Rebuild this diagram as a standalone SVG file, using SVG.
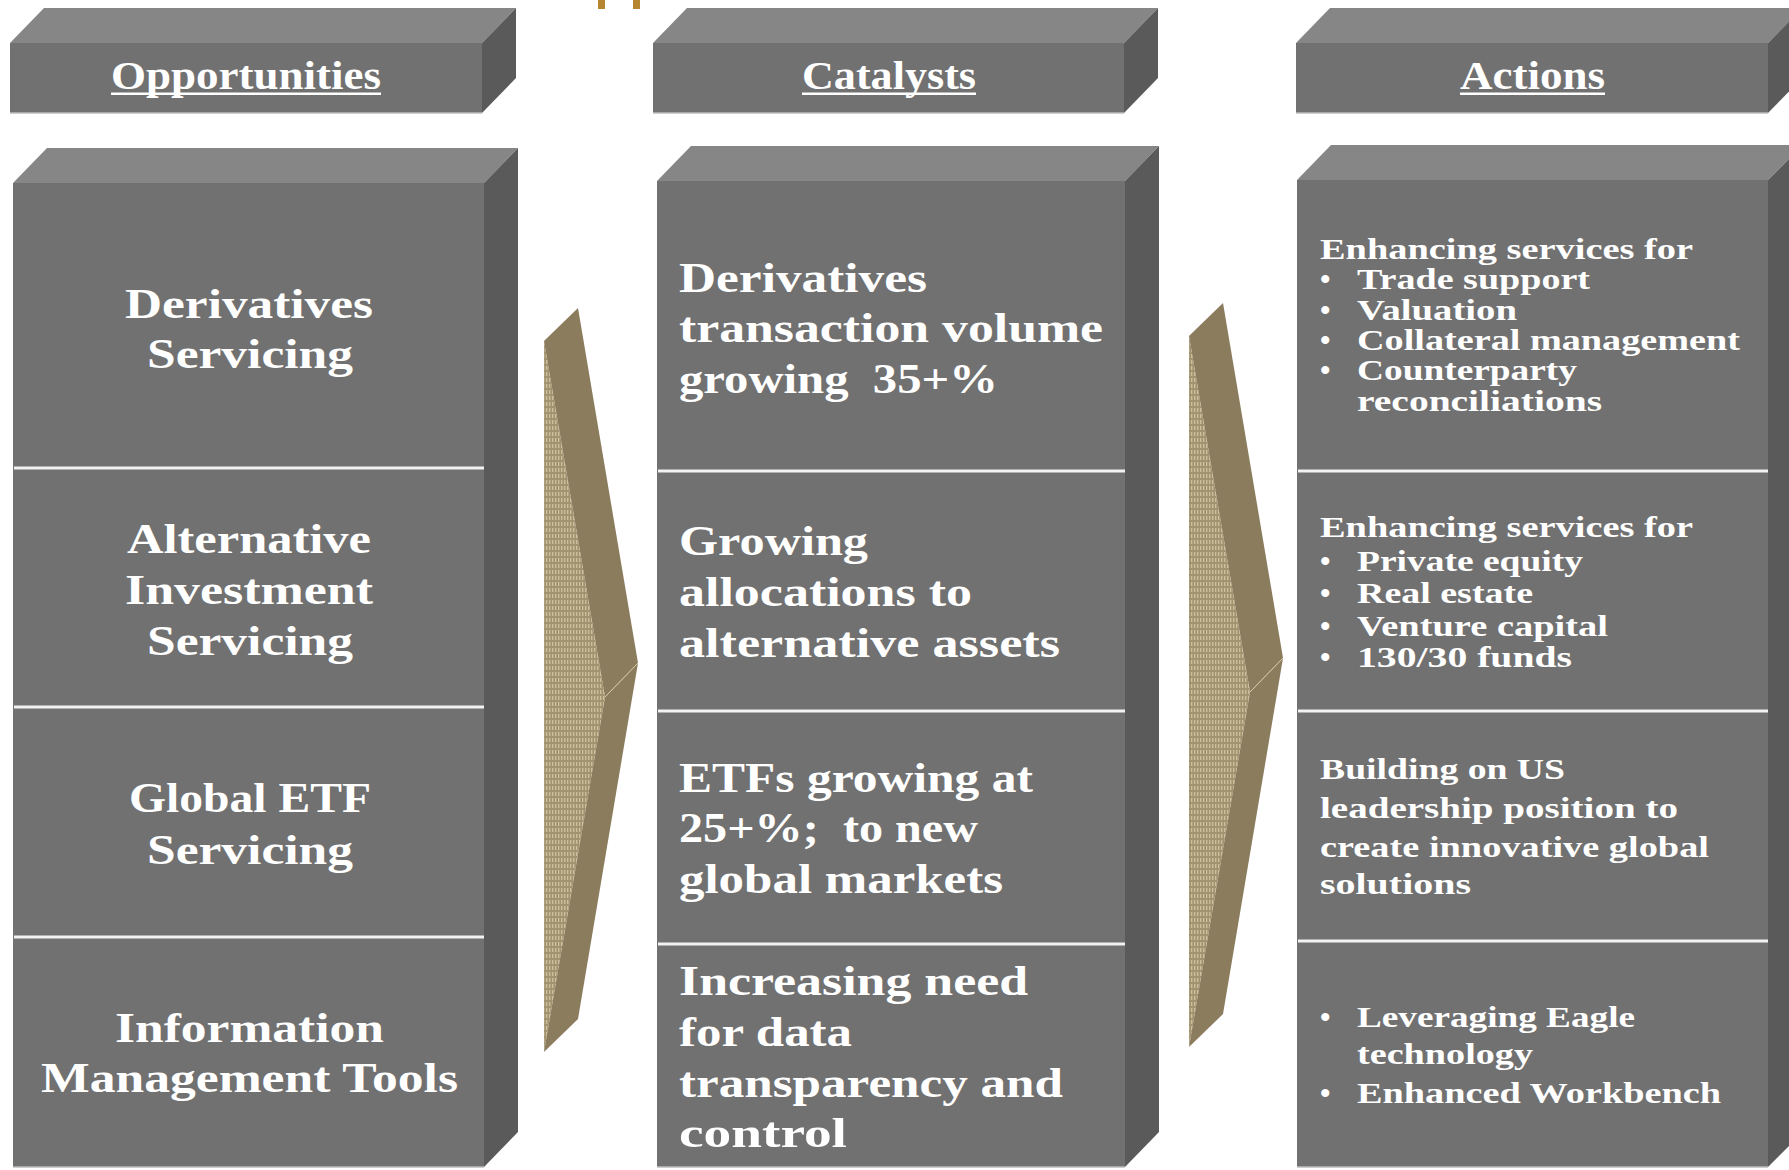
<svg xmlns="http://www.w3.org/2000/svg" width="1789" height="1170" viewBox="0 0 1789 1170">
  <style>
    .front { fill: #717171; }
    .top { fill: #868686; }
    .side { fill: #5a5a5a; }
    .edge { stroke: #bdbdbd; stroke-width: 1.5; }
    .div { stroke: #f2f2f2; stroke-width: 3; }
    .hdr { font-family: "Liberation Serif", "Times New Roman", serif; font-weight: bold; font-size: 40px; fill: #ffffff; }
    .big { font-family: "Liberation Serif", "Times New Roman", serif; font-weight: bold; font-size: 43px; fill: #ffffff; }
    .mid { font-family: "Liberation Serif", "Times New Roman", serif; font-weight: bold; font-size: 42px; fill: #ffffff; }
    .sm { font-family: "Liberation Serif", "Times New Roman", serif; font-weight: bold; font-size: 30px; fill: #ffffff; }
    .arrowFace { fill: #8a7c5d; }
    .arrowEdge { stroke: #d8cba5; stroke-width: 1; fill: none; }
  </style>
  <defs>
    <pattern id="weave" width="3" height="6" patternUnits="userSpaceOnUse">
      <rect width="3" height="6" fill="#a19270"/>
      <rect x="0" y="0" width="1.4" height="4" fill="#cdbf9b"/>
    </pattern>
  </defs>
  <rect width="1789" height="1170" fill="#ffffff"/>

  <!-- small gold marks at top edge -->
  <rect x="598" y="0" width="7" height="9" fill="#b5862f"/>
  <rect x="633" y="0" width="7" height="9" fill="#b5862f"/>

  <!-- column headers -->
  <g id="hdr-opportunities">
    <polygon class="top" points="10,43 44,8 516,8 482,43"/>
    <polygon class="side" points="482,43 516,8 516,78 482,113"/>
    <rect class="front" x="10" y="43" width="472" height="70"/>
    <line class="edge" x1="10" y1="113" x2="482" y2="113"/>
    <text class="hdr" x="111" y="89" textLength="270" lengthAdjust="spacingAndGlyphs">Opportunities</text>
    <rect x="111" y="92.5" width="270" height="2.5" fill="#ffffff"/>
  </g>
  <g id="hdr-catalysts">
    <polygon class="top" points="653,43 687,8 1158,8 1124,43"/>
    <polygon class="side" points="1124,43 1158,8 1158,78 1124,113"/>
    <rect class="front" x="653" y="43" width="471" height="70"/>
    <line class="edge" x1="653" y1="113" x2="1124" y2="113"/>
    <text class="hdr" x="802" y="89" textLength="174" lengthAdjust="spacingAndGlyphs">Catalysts</text>
    <rect x="802" y="92.5" width="174" height="2.5" fill="#ffffff"/>
  </g>
  <g id="hdr-actions">
    <polygon class="top" points="1296,43 1330,8 1802,8 1768,43"/>
    <polygon class="side" points="1768,43 1802,8 1802,78 1768,113"/>
    <rect class="front" x="1296" y="43" width="472" height="70"/>
    <line class="edge" x1="1296" y1="113" x2="1768" y2="113"/>
    <text class="hdr" x="1460" y="89" textLength="145" lengthAdjust="spacingAndGlyphs">Actions</text>
    <rect x="1460" y="92.5" width="145" height="2.5" fill="#ffffff"/>
  </g>

  <!-- Opportunities column -->
  <g id="col-opportunities">
    <polygon class="top" points="13,183 47,148 518,148 484,183"/>
    <polygon class="side" points="484,183 518,148 518,1132 484,1167"/>
    <rect class="front" x="13" y="183" width="471" height="984"/>
    <line class="edge" x1="13" y1="1167" x2="484" y2="1167"/>
    <line class="div" x1="14" y1="468" x2="484" y2="468"/>
    <line class="div" x1="14" y1="707" x2="484" y2="707"/>
    <line class="div" x1="14" y1="937" x2="484" y2="937"/>
    <g id="opp-derivatives">
      <text class="big" x="125" y="318" textLength="248" lengthAdjust="spacingAndGlyphs">Derivatives</text>
      <text class="big" x="147" y="368" textLength="206" lengthAdjust="spacingAndGlyphs">Servicing</text>
    </g>
    <g id="opp-alternative">
      <text class="big" x="127" y="553" textLength="244" lengthAdjust="spacingAndGlyphs">Alternative</text>
      <text class="big" x="125" y="604" textLength="248" lengthAdjust="spacingAndGlyphs">Investment</text>
      <text class="big" x="147" y="655" textLength="206" lengthAdjust="spacingAndGlyphs">Servicing</text>
    </g>
    <g id="opp-etf">
      <text class="big" x="129" y="812" textLength="242" lengthAdjust="spacingAndGlyphs">Global ETF</text>
      <text class="big" x="147" y="864" textLength="206" lengthAdjust="spacingAndGlyphs">Servicing</text>
    </g>
    <g id="opp-info">
      <text class="big" x="115" y="1042" textLength="269" lengthAdjust="spacingAndGlyphs">Information</text>
      <text class="big" x="41" y="1092" textLength="417" lengthAdjust="spacingAndGlyphs">Management Tools</text>
    </g>
  </g>

  <!-- Catalysts column -->
  <g id="col-catalysts">
    <polygon class="top" points="657,181 691,146 1159,146 1125,181"/>
    <polygon class="side" points="1125,181 1159,146 1159,1132 1125,1167"/>
    <rect class="front" x="657" y="181" width="468" height="986"/>
    <line class="edge" x1="657" y1="1167" x2="1125" y2="1167"/>
    <line class="div" x1="658" y1="471" x2="1125" y2="471"/>
    <line class="div" x1="658" y1="711" x2="1125" y2="711"/>
    <line class="div" x1="658" y1="944" x2="1125" y2="944"/>
    <g id="cat-derivatives">
      <text class="mid" x="679" y="292" textLength="248" lengthAdjust="spacingAndGlyphs">Derivatives</text>
      <text class="mid" x="679" y="342" textLength="424" lengthAdjust="spacingAndGlyphs">transaction volume</text>
      <text class="mid" x="679" y="393" textLength="319" lengthAdjust="spacingAndGlyphs" xml:space="preserve">growing  35+%</text>
    </g>
    <g id="cat-alternative">
      <text class="mid" x="679" y="555" textLength="189" lengthAdjust="spacingAndGlyphs">Growing</text>
      <text class="mid" x="679" y="606" textLength="293" lengthAdjust="spacingAndGlyphs">allocations to</text>
      <text class="mid" x="679" y="657" textLength="381" lengthAdjust="spacingAndGlyphs">alternative assets</text>
    </g>
    <g id="cat-etf">
      <text class="mid" x="679" y="792" textLength="354" lengthAdjust="spacingAndGlyphs">ETFs growing at</text>
      <text class="mid" x="679" y="842" textLength="299" lengthAdjust="spacingAndGlyphs" xml:space="preserve">25+%;  to new</text>
      <text class="mid" x="679" y="893" textLength="324" lengthAdjust="spacingAndGlyphs">global markets</text>
    </g>
    <g id="cat-data">
      <text class="mid" x="679" y="995" textLength="349" lengthAdjust="spacingAndGlyphs">Increasing need</text>
      <text class="mid" x="679" y="1046" textLength="173" lengthAdjust="spacingAndGlyphs">for data</text>
      <text class="mid" x="679" y="1097" textLength="384" lengthAdjust="spacingAndGlyphs">transparency and</text>
      <text class="mid" x="679" y="1147" textLength="168" lengthAdjust="spacingAndGlyphs">control</text>
    </g>
  </g>

  <!-- Actions column -->
  <g id="col-actions">
    <polygon class="top" points="1297,180 1331,145 1803,145 1768,180"/>
    <polygon class="side" points="1768,180 1803,145 1803,1132 1768,1167"/>
    <rect class="front" x="1297" y="180" width="471" height="987"/>
    <line class="edge" x1="1297" y1="1167" x2="1768" y2="1167"/>
    <line class="div" x1="1298" y1="471" x2="1768" y2="471"/>
    <line class="div" x1="1298" y1="711" x2="1768" y2="711"/>
    <line class="div" x1="1298" y1="941" x2="1768" y2="941"/>
    <g id="act-derivatives">
      <text class="sm" x="1320" y="259" textLength="373" lengthAdjust="spacingAndGlyphs">Enhancing services for</text>
      <text class="sm" x="1320" y="289">•</text>
      <text class="sm" x="1357" y="289" textLength="233" lengthAdjust="spacingAndGlyphs">Trade support</text>
      <text class="sm" x="1320" y="320">•</text>
      <text class="sm" x="1357" y="320" textLength="160" lengthAdjust="spacingAndGlyphs">Valuation</text>
      <text class="sm" x="1320" y="350">•</text>
      <text class="sm" x="1357" y="350" textLength="383" lengthAdjust="spacingAndGlyphs">Collateral management</text>
      <text class="sm" x="1320" y="380">•</text>
      <text class="sm" x="1357" y="380" textLength="220" lengthAdjust="spacingAndGlyphs">Counterparty</text>
      <text class="sm" x="1357" y="411" textLength="245" lengthAdjust="spacingAndGlyphs">reconciliations</text>
    </g>
    <g id="act-alternative">
      <text class="sm" x="1320" y="537" textLength="373" lengthAdjust="spacingAndGlyphs">Enhancing services for</text>
      <text class="sm" x="1320" y="571">•</text>
      <text class="sm" x="1357" y="571" textLength="226" lengthAdjust="spacingAndGlyphs">Private equity</text>
      <text class="sm" x="1320" y="603">•</text>
      <text class="sm" x="1357" y="603" textLength="176" lengthAdjust="spacingAndGlyphs">Real estate</text>
      <text class="sm" x="1320" y="636">•</text>
      <text class="sm" x="1357" y="636" textLength="251" lengthAdjust="spacingAndGlyphs">Venture capital</text>
      <text class="sm" x="1320" y="667">•</text>
      <text class="sm" x="1357" y="667" textLength="215" lengthAdjust="spacingAndGlyphs">130/30 funds</text>
    </g>
    <g id="act-etf">
      <text class="sm" x="1320" y="779" textLength="245" lengthAdjust="spacingAndGlyphs">Building on US</text>
      <text class="sm" x="1320" y="818" textLength="358" lengthAdjust="spacingAndGlyphs">leadership position to</text>
      <text class="sm" x="1320" y="857" textLength="389" lengthAdjust="spacingAndGlyphs">create innovative global</text>
      <text class="sm" x="1320" y="894" textLength="151" lengthAdjust="spacingAndGlyphs">solutions</text>
    </g>
    <g id="act-info">
      <text class="sm" x="1320" y="1027">•</text>
      <text class="sm" x="1357" y="1027" textLength="278" lengthAdjust="spacingAndGlyphs">Leveraging Eagle</text>
      <text class="sm" x="1357" y="1064" textLength="176" lengthAdjust="spacingAndGlyphs">technology</text>
      <text class="sm" x="1320" y="1103">•</text>
      <text class="sm" x="1357" y="1103" textLength="364" lengthAdjust="spacingAndGlyphs">Enhanced Workbench</text>
    </g>
  </g>

  <!-- chevron connectors between columns -->
  <g id="connectors">
    <g id="chevron-1">
      <polygon fill="url(#weave)" points="544,341 605,697 544,1052"/>
      <polygon class="arrowFace" points="544,341 578,308 638,663 605,697"/>
      <polygon class="arrowFace" points="605,697 638,663 578,1019 544,1052"/>
      <line class="arrowEdge" x1="638" y1="663" x2="605" y2="697"/>
    </g>
    <g id="chevron-2">
      <polygon fill="url(#weave)" points="1189,336 1250,692 1189,1047"/>
      <polygon class="arrowFace" points="1189,336 1223,303 1283,658 1250,692"/>
      <polygon class="arrowFace" points="1250,692 1283,658 1223,1014 1189,1047"/>
      <line class="arrowEdge" x1="1283" y1="658" x2="1250" y2="692"/>
    </g>
  </g>
</svg>
